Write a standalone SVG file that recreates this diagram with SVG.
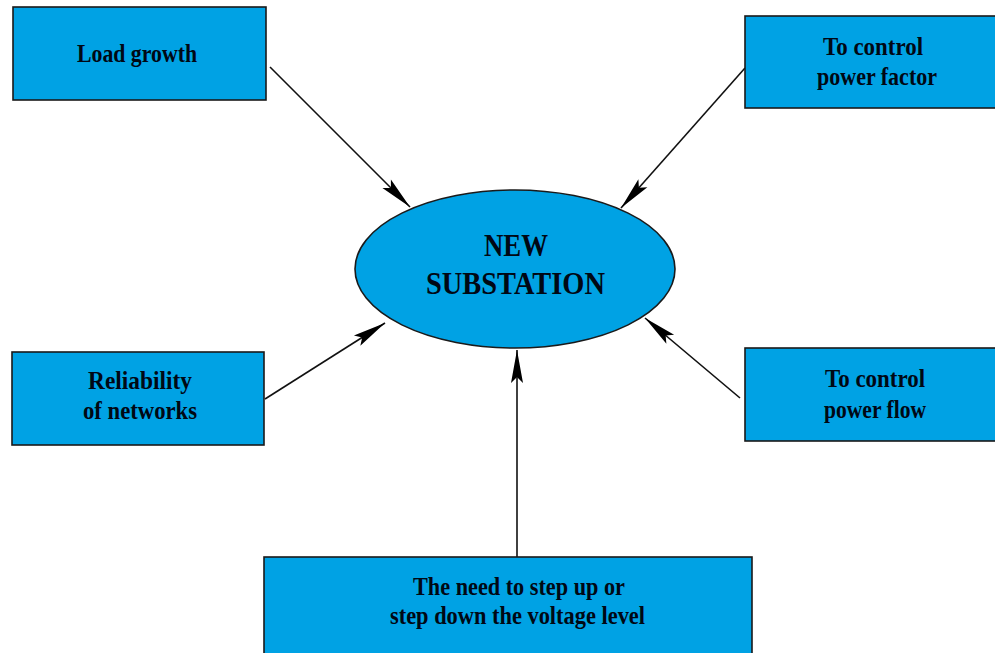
<svg xmlns="http://www.w3.org/2000/svg" width="995" height="653" viewBox="0 0 995 653">
<style>
.box{fill:#00a2e4;stroke:#1a1a1a;stroke-width:1.6}
.t{font-family:"Liberation Serif","Times New Roman",serif;font-weight:bold;font-size:25px;fill:#000814;text-anchor:middle}
.big{font-size:31px}
.c{stroke:#111;stroke-width:1.6;fill:none;marker-end:url(#ah)}
</style>
<defs>
<marker id="ah" markerUnits="userSpaceOnUse" markerWidth="40" markerHeight="20" viewBox="-34 -10 40 20" refX="0" refY="0" orient="auto">
<path d="M0,0 L-33,-6 L-27,0 L-33,6 Z" fill="#000"/>
</marker>
</defs>
<rect width="995" height="653" fill="#fff"/>
<g id="connectors">
<line class="c" x1="270" y1="67" x2="410" y2="207"/>
<line class="c" x1="745" y1="68" x2="621" y2="208"/>
<line class="c" x1="265" y1="399" x2="385" y2="323"/>
<line class="c" x1="740" y1="398" x2="645" y2="318"/>
<line class="c" x1="517" y1="557" x2="517" y2="350"/>
</g>
<g id="new-substation">
<ellipse class="box" cx="515" cy="269" rx="160" ry="79"/>
<text class="t big" x="516" y="256" textLength="64" lengthAdjust="spacingAndGlyphs">NEW</text>
<text class="t big" x="515.5" y="294" textLength="179" lengthAdjust="spacingAndGlyphs">SUBSTATION</text>
</g>
<g id="load-growth">
<rect class="box" x="13" y="7" width="253" height="93"/>
<text class="t" x="137" y="62" textLength="120" lengthAdjust="spacingAndGlyphs">Load growth</text>
</g>
<g id="power-factor">
<rect class="box" x="745" y="16" width="260" height="92"/>
<text class="t" x="873" y="55" textLength="100" lengthAdjust="spacingAndGlyphs">To control</text>
<text class="t" x="877" y="85" textLength="120" lengthAdjust="spacingAndGlyphs">power factor</text>
</g>
<g id="reliability">
<rect class="box" x="12" y="352" width="252" height="93"/>
<text class="t" x="140" y="389" textLength="104" lengthAdjust="spacingAndGlyphs">Reliability</text>
<text class="t" x="140" y="419" textLength="114" lengthAdjust="spacingAndGlyphs">of networks</text>
</g>
<g id="power-flow">
<rect class="box" x="745" y="348" width="260" height="93"/>
<text class="t" x="875" y="387" textLength="100" lengthAdjust="spacingAndGlyphs">To control</text>
<text class="t" x="875" y="418" textLength="102" lengthAdjust="spacingAndGlyphs">power flow</text>
</g>
<g id="voltage-level">
<rect class="box" x="264" y="557" width="488" height="100"/>
<text class="t" x="519" y="595" textLength="212" lengthAdjust="spacingAndGlyphs">The need to step up or</text>
<text class="t" x="517.5" y="624" textLength="255" lengthAdjust="spacingAndGlyphs">step down the voltage level</text>
</g>
</svg>
